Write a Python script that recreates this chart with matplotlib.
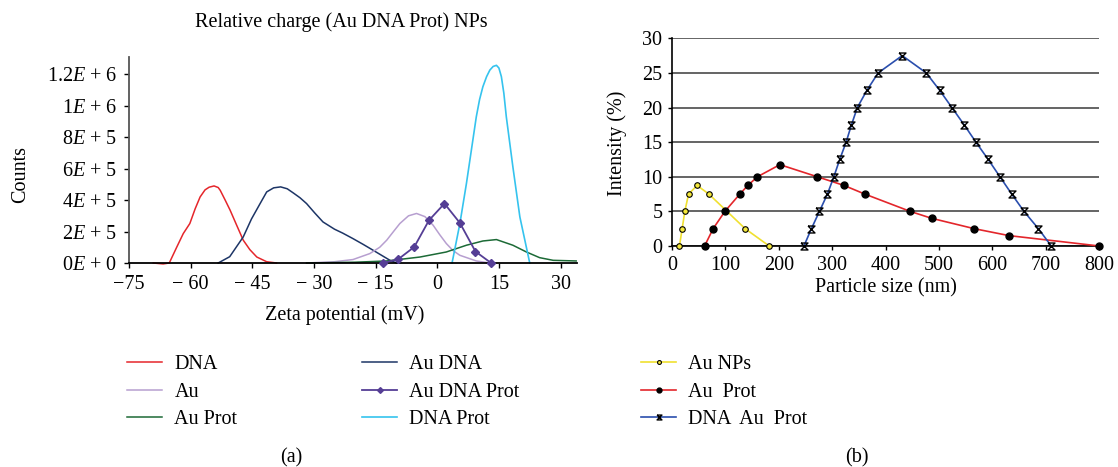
import numpy as np
import matplotlib
matplotlib.use("Agg")
import matplotlib.pyplot as plt
from matplotlib.path import Path

plt.rcParams["font.family"] = ["Liberation Serif", "DejaVu Serif"]
plt.rcParams["mathtext.fontset"] = "custom"
plt.rcParams["mathtext.rm"] = "Liberation Serif"
plt.rcParams["mathtext.it"] = "Liberation Serif:italic"
FS = 14.5
plt.rcParams["font.size"] = FS

# ---- (a) zeta potential, counts
dna_x = [-69.1, -66.7, -65.2, -63.4, -61.8, -60.2, -58.9, -57.7, -56.5, -55.5, -54.3, -53.3,
         -52.8, -51.6, -50.4, -48.8, -47.2, -45.6, -43.9, -41.5, -39.1]
dna_y = [0, -6e3, 0, 100e3, 187e3, 251e3, 345e3, 420e3, 465e3, 482e3, 490e3, 480e3,
         462e3, 400e3, 336e3, 240e3, 145e3, 85e3, 38e3, 8e3, 0]

audna_x = [-53.3, -50.5, -47.2, -45.2, -43.1, -41.5, -39.8, -38.1, -36.5, -35.0, -33.4,
           -31.8, -29.8, -27.8, -25.0, -23.0, -20.5, -18.0, -15.6, -11.5, -9.9]
audna_y = [0, 40e3, 166e3, 280e3, 378e3, 452e3, 478e3, 484e3, 472e3, 445e3, 415e3,
           378e3, 318e3, 261e3, 215e3, 190e3, 155e3, 118e3, 81e3, 17e3, 0]

au_x = [-31.8, -25.0, -20.5, -16.4, -14.0, -12.3, -10.5, -9.1, -7.0, -5.05, -3.0, -1.0,
        0.6, 2.2, 3.8, 5.5, 9.5, 12.8]
au_y = [0, 8e3, 22e3, 60e3, 100e3, 145e3, 205e3, 251e3, 300e3, 315e3, 295e3, 240e3,
        180e3, 124e3, 80e3, 49e3, 13e3, 0]

audnaprot_x = [-13.2, -9.5, -5.6, -2.0, 1.75, 5.5, 9.3, 13.1]
audnaprot_y = [0, 24e3, 102e3, 272e3, 378e3, 255e3, 73e3, 0]

dnaprot_x = [3.6, 5.5, 7.1, 8.3, 9.5, 10.3, 11.1, 12.0, 12.8, 13.6, 14.4, 15.0, 15.6, 16.2,
             16.8, 18.4, 20.1, 22.5]
dnaprot_y = [0, 250e3, 506e3, 718e3, 930e3, 1040e3, 1121e3, 1185e3, 1227e3, 1250e3, 1257e3,
             1240e3, 1185e3, 1080e3, 930e3, 611e3, 293e3, 0]

auprot_x = [-31.8, -20.0, -12.3, -4.2, 2.2, 7.1, 11.1, 14.4, 18.4, 21.7, 24.9, 28.2, 33.8]
auprot_y = [0, 5e3, 13e3, 38e3, 70e3, 113e3, 140e3, 149e3, 113e3, 70e3, 34e3, 17e3, 13e3]

zeta_ticks = [-75, -60, -45, -30, -15, 0, 15, 30]
zeta_labels = ["\u221275", "\u2212 60", "\u2212 45", "\u2212 30", "\u2212 15", "0", "15", "30"]
count_ticks = [0, 2e5, 4e5, 6e5, 8e5, 1e6, 1.2e6]
count_labels = ["0$E$ + 0", "2$E$ + 5", "4$E$ + 5", "6$E$ + 5", "8$E$ + 5", "1$E$ + 6", "1.2$E$ + 6"]

# ---- (b) size distribution
aunp_x = [14, 19, 24, 31, 47, 69, 137, 182]
aunp_y = [0, 2.5, 5, 7.5, 8.75, 7.5, 2.5, 0]

auprot2_x = [61, 77, 99, 127, 142, 160, 202, 272, 322, 361, 446, 486, 566, 631, 800]
auprot2_y = [0, 2.5, 5, 7.5, 8.75, 10, 11.75, 10, 8.75, 7.5, 5, 4, 2.5, 1.5, 0]

dnaauprot_x = [247, 261, 276, 291, 303, 314, 326, 336, 347, 365, 386, 431, 476, 501,
               524, 547, 569, 592, 614, 636, 659, 686, 710]
dnaauprot_y = [0, 2.5, 5, 7.5, 10, 12.5, 15, 17.5, 20, 22.5, 25, 27.5, 25, 22.5,
               20, 17.5, 15, 12.5, 10, 7.5, 5, 2.5, 0]

# hourglass marker like the excel one
hour = Path([(-1, 1), (1, 1), (-1, -1), (1, -1), (-1, 1)],
            [Path.MOVETO, Path.LINETO, Path.LINETO, Path.LINETO, Path.LINETO])

fig = plt.figure(figsize=(11.18, 4.67), dpi=100)

ax = fig.add_axes([129/1118, 1-263/467, 448/1118, 206/467])
h1, = ax.plot(dna_x, dna_y, color="#e5262b", lw=1.1, clip_on=False)
h4, = ax.plot(audna_x, audna_y, color="#1d3566", lw=1.1, clip_on=False)
h2, = ax.plot(au_x, au_y, color="#b79fd0", lw=1.1, clip_on=False)
h3, = ax.plot(auprot_x, auprot_y, color="#1c6a36", lw=1.1, clip_on=False)
h6, = ax.plot(dnaprot_x, dnaprot_y, color="#35c3ee", lw=1.2, clip_on=False)
h5, = ax.plot(audnaprot_x, audnaprot_y, color="#553e95", lw=1.3, marker="D", ms=4.2,
              mfc="#553e95", mec="#553e95", clip_on=False, zorder=5)

ax.set_xlim(-75, 34)
ax.set_ylim(0, 1.31e6)
ax.set_xticks(zeta_ticks)
ax.set_xticklabels(zeta_labels)
ax.set_yticks(count_ticks)
ax.set_yticklabels(count_labels)
for s in ["top", "right"]:
    ax.spines[s].set_visible(False)
ax.spines["left"].set_color("#555555")
ax.spines["bottom"].set_color("black")
ax.spines["left"].set_linewidth(1.3)
ax.spines["bottom"].set_linewidth(1.3)
ax.tick_params(direction="out", length=3.5, width=1, pad=5, labelsize=FS)
ax.set_xlabel("Zeta potential (mV)", fontsize=FS, va="center")
ax.xaxis.set_label_coords(0.481, -0.252)
ax.set_ylabel("Counts", fontsize=FS, va="center")
ax.yaxis.set_label_coords(-0.243, 0.43)
fig.text(341/1118, 1-22/467, "Relative charge (Au DNA Prot) NPs", ha="center", va="center", fontsize=FS)

bx = fig.add_axes([672/1118, 1-246/467, 427.3/1118, 207.7/467])
bx.set_axisbelow(True)
bx.yaxis.grid(True, color="#3a3a3a", lw=1.1)
g1, = bx.plot(aunp_x, aunp_y, color="#f0e030", lw=1.2, marker="o", ms=4,
              mfc="#f5e83a", mec="black", mew=0.8, clip_on=False, zorder=4)
g2, = bx.plot(auprot2_x, auprot2_y, color="#e3262b", lw=1.2, marker="o", ms=5,
              mfc="black", mec="black", clip_on=False, zorder=4)
g3, = bx.plot(dnaauprot_x, dnaauprot_y, color="#2a4ead", lw=1.2, marker=hour, ms=5,
              mfc="none", mec="black", mew=1.0, clip_on=False, zorder=4)
bx.set_xlim(0, 800)
bx.set_ylim(0, 30)
bx.set_xticks(range(0, 801, 100))
bx.set_yticks(range(0, 31, 5))
for s in ["top", "right"]:
    bx.spines[s].set_visible(False)
bx.spines["left"].set_linewidth(1.2)
bx.spines["bottom"].set_linewidth(1.2)
bx.tick_params(direction="out", length=3, width=1, pad=4, labelsize=FS)
bx.set_xlabel("Particle size (nm)", fontsize=FS, va="center")
bx.xaxis.set_label_coords(0.501, -0.202)
bx.set_ylabel("Intensity (%)", fontsize=FS, va="center")
bx.yaxis.set_label_coords(-0.129, 0.496)

# legend, three columns under the panels
legkw = dict(loc="upper left", frameon=False, borderpad=0, borderaxespad=0,
             handlelength=1.75, handletextpad=0.6, labelspacing=0.42, fontsize=FS,
             markerscale=0.7)
top = 1 - 355/467
fig.legend([h1, h2, h3], ["DNA", "Au", "Au Prot"], bbox_to_anchor=(127/1118, top), **legkw)
fig.legend([h4, h5, h6], ["Au DNA", "Au DNA Prot", "DNA Prot"], bbox_to_anchor=(362/1118, top), **legkw)
fig.legend([g1, g2, g3], ["Au NPs", "Au  Prot", "DNA  Au  Prot"], bbox_to_anchor=(641/1118, top), **legkw)

fig.text(291.7/1118, 1-458/467, "(a)", ha="center", va="center", fontsize=FS)
fig.text(856.7/1118, 1-458/467, "(b)", ha="center", va="center", fontsize=FS)

fig.savefig("out.png", dpi=100)
